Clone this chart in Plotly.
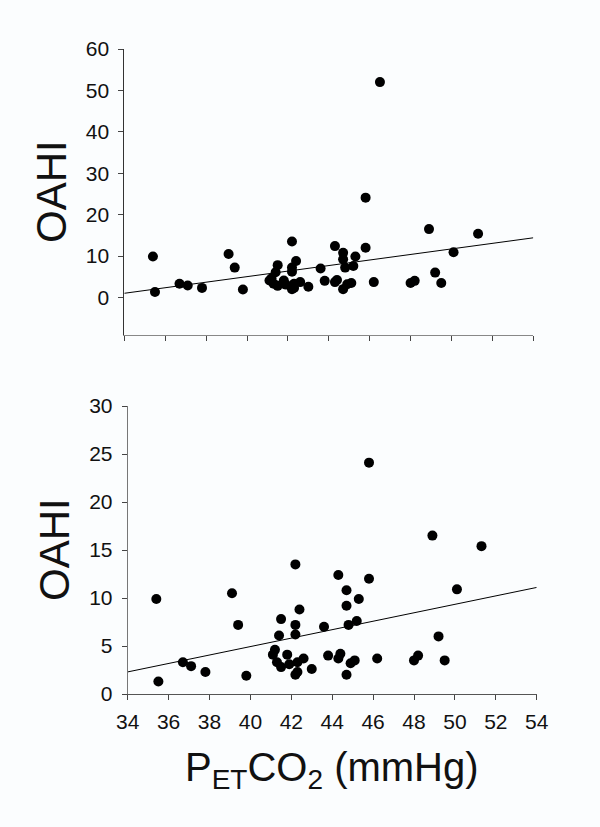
import plotly.graph_objects as go

# Data; same subjects in both panels
petco2 = [35.4, 35.5, 36.7, 37.1, 37.8, 39.1, 39.4, 39.8, 41.5, 41.4, 41.2, 41.1,
          41.3, 41.5, 41.8, 41.9, 42.2, 42.2, 42.2, 42.4, 42.3, 42.3, 42.2, 42.6,
          43.0, 43.6, 43.8, 44.3, 44.4, 44.3, 44.7, 44.7, 44.7, 44.8, 45.2, 45.3,
          44.9, 45.1, 45.8, 45.8, 46.2, 48.0, 48.2, 48.9, 49.2, 49.5, 50.1, 51.3,
          46.5]
oahi = [9.9, 1.3, 3.3, 2.9, 2.3, 10.5, 7.2, 1.9, 7.8, 6.1, 4.6, 4.1,
        3.3, 2.8, 4.1, 3.1, 13.5, 7.2, 6.2, 8.8, 3.3, 2.3, 2.0, 3.7,
        2.6, 7.0, 4.0, 12.4, 4.2, 3.7, 2.0, 10.8, 9.2, 7.2, 7.6, 9.9,
        3.2, 3.5, 12.0, 24.1, 3.7, 3.5, 4.0, 16.5, 6.0, 3.5, 10.9, 15.4,
        52.0]

fit_x = [34, 54]
fit_top = [1.0, 14.4]
fit_bottom = [2.3, 11.1]

x_ticks = [34, 36, 38, 40, 42, 44, 46, 48, 50, 52, 54]
y_ticks_top = [0, 10, 20, 30, 40, 50, 60]
y_ticks_bottom = [0, 5, 10, 15, 20, 25, 30]

W, H = 600, 827
FONT = "Liberation Sans, Arial, sans-serif"
BG = "#FBFDFE"

fig = go.Figure()
marker = dict(color="black", size=10, line=dict(width=0))
fig.add_trace(go.Scatter(x=petco2, y=oahi, mode="markers", marker=marker,
                         xaxis="x", yaxis="y", showlegend=False))
fig.add_trace(go.Scatter(x=fit_x, y=fit_top, mode="lines",
                         line=dict(color="black", width=1),
                         xaxis="x", yaxis="y", showlegend=False))
fig.add_trace(go.Scatter(x=petco2, y=oahi, mode="markers", marker=marker,
                         xaxis="x2", yaxis="y2", showlegend=False))
fig.add_trace(go.Scatter(x=fit_x, y=fit_bottom, mode="lines",
                         line=dict(color="black", width=1),
                         xaxis="x2", yaxis="y2", showlegend=False))

def px_x(p):
    return p / W

def px_y(p):
    return 1 - p / H

common = dict(showgrid=False, zeroline=False, showline=True, ticks="outside",
              ticklen=5, tickwidth=1, tickcolor="#444", linewidth=1,
              automargin=False,
              tickfont=dict(family=FONT, size=21, color="#111"))

fig.update_layout(
    template="none",
    width=W, height=H, margin=dict(l=0, r=0, t=0, b=0, pad=0),
    paper_bgcolor=BG, plot_bgcolor=BG,
    xaxis=dict(domain=[px_x(124.3), px_x(533.3)], range=[34, 54], tickvals=x_ticks,
               showticklabels=False, anchor="y", linecolor="#888", **common),
    yaxis=dict(domain=[px_y(334.7), px_y(49)], range=[-9, 60], tickvals=y_ticks_top,
               anchor="x", linecolor="#333", ticklabelstandoff=5, **common),
    xaxis2=dict(domain=[px_x(127.7), px_x(536.7)], range=[34, 54], tickvals=x_ticks,
                anchor="y2", linecolor="#555", ticklabelstandoff=4, **common),
    yaxis2=dict(domain=[px_y(694), px_y(406)], range=[0, 30], tickvals=y_ticks_bottom,
                anchor="x2", linecolor="#777", ticklabelstandoff=5, **common),
    annotations=[
        dict(text="OAHI", x=px_x(52), y=px_y(192), xref="paper", yref="paper",
             textangle=-90, showarrow=False, xanchor="center", yanchor="middle",
             font=dict(family=FONT, size=42, color="#111")),
        dict(text="OAHI", x=px_x(54), y=px_y(550), xref="paper", yref="paper",
             textangle=-90, showarrow=False, xanchor="center", yanchor="middle",
             font=dict(family=FONT, size=42, color="#111")),
        dict(text="P<sub>ET</sub>CO<sub>2</sub> (mmHg)", x=px_x(332), y=px_y(770),
             xref="paper", yref="paper", showarrow=False,
             xanchor="center", yanchor="middle",
             font=dict(family=FONT, size=40, color="#111")),
    ],
)

fig.write_html("out.html", config={"displayModeBar": False},
               post_script="document.body.style.margin='0';document.body.style.overflow='hidden';")
